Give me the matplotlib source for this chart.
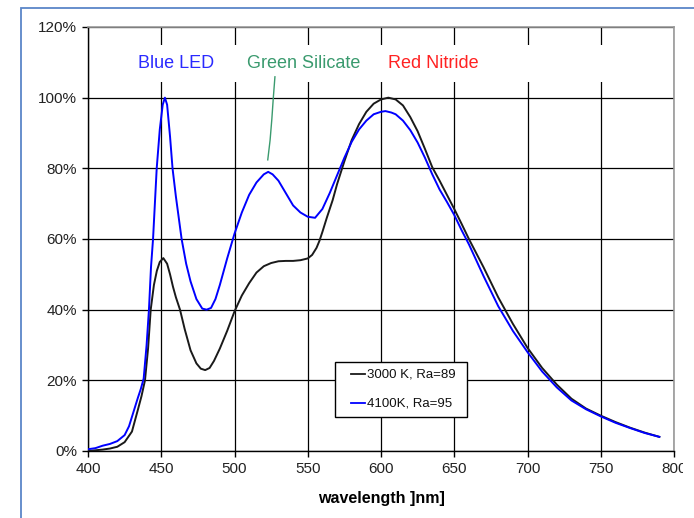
import matplotlib
matplotlib.use("Agg")
import matplotlib.pyplot as plt
from matplotlib.patches import Rectangle
from matplotlib.lines import Line2D

plt.rcParams['font.family'] = ['Liberation Sans', 'DejaVu Sans']

# ---- data ----
wl_3000 = [400, 405, 410, 415, 420, 425, 430, 434, 436.5, 438.9, 441, 442.8, 445, 447, 449, 451.4,
           454, 456, 458, 460, 462.8, 466, 470, 474, 477, 480, 483, 486, 490, 495, 500,
           505, 510, 515, 520, 525, 530, 535, 540, 545, 550, 553, 556, 558, 560, 563, 567,
           570, 575, 580, 585, 590, 595, 600, 605, 610, 615, 620, 625, 630, 635, 640, 645,
           650, 655, 660, 670, 680, 690, 700, 710, 720, 730, 740, 750, 760, 770, 780, 790]
val_3000 = [0.0, 0.2, 0.4, 0.7, 1.2, 2.5, 5.5, 11.6, 15.5, 20, 29, 40, 47, 51, 53.5, 54.6,
            53, 50, 46.5, 43.5, 40, 34.5, 28.5, 24.8, 23.3, 22.9, 23.5, 25.5, 29, 34, 39.5,
            44, 47.5, 50.5, 52.3, 53.2, 53.7, 53.8, 53.8, 54, 54.5, 55.5, 57.5, 59.5, 62, 66, 71,
            75.5, 82, 88, 92.5, 96, 98.3, 99.5, 100, 99.5, 97.8, 94.5, 90.5, 85.5, 80.3, 76.5, 72.5,
            68.5, 64.3, 60, 52, 43.5, 36, 29.2, 23.5, 18.8, 14.8, 12, 10, 8.2, 6.6, 5.2, 4.0]

wl_4100 = [400, 405, 410, 415, 420, 425, 428, 431, 434, 436, 438, 440, 441.6, 443, 444.4,
           446.9, 449, 451, 452.5, 454, 456, 457.7, 460, 463.9, 467, 470, 474, 478, 481, 484,
           487, 490, 495, 500, 505, 510, 515, 520, 523, 526, 530, 535, 540, 545, 550, 555,
           560, 565, 570, 575, 580, 585, 590, 595, 600, 603, 607, 610, 615, 620, 625, 630,
           635, 640, 645, 650, 655, 660, 670, 680, 690, 700, 710, 720, 730, 740, 750, 760,
           770, 780, 790]
val_4100 = [0.5, 0.8, 1.5, 2.0, 2.8, 4.5, 7, 11, 15, 17.5, 20.5, 30, 40, 52, 60,
            80, 91, 98, 100, 98, 89, 80, 72, 60, 53, 48, 43, 40.3, 40, 40.5,
            43, 47, 54.5, 61.5, 67.5, 72.5, 76, 78.3, 79, 78.3, 76.5, 73, 69.5, 67.5, 66.3, 66,
            68.5, 73, 78, 83, 87.5, 91, 93.5, 95.3, 96, 96.2, 95.8, 95.3, 93.5, 90.8, 87.3, 83,
            78.3, 74, 70.5, 66.8, 62.5, 58.5, 49.5, 41, 34, 28, 22.5, 18, 14.3, 11.8, 9.8, 8,
            6.5, 5.1, 4.0]

series_labels = ['3000 K, Ra=89', '4100K, Ra=95']
series_colors = ['#1a1a1a', '#0000ff']
x_ticks = [400, 450, 500, 550, 600, 650, 700, 750, 800]
y_ticks = [0, 20, 40, 60, 80, 100, 120]
annotations = ['Blue LED', 'Green Silicate', 'Red Nitride']
annotation_colors = ['#2a2aff', '#3a9a6e', '#ff2222']
annotation_x = [460.4, 547, 636]

# ---- figure ----
W, H = 694, 518
fig = plt.figure(figsize=(W / 100, H / 100), dpi=100)
ax = fig.add_axes([88 / W, 1 - 451 / H, (674 - 88) / W, (451 - 27) / H])

ax.set_xlim(400, 800)
ax.set_ylim(0, 120)

ax.plot(wl_3000, val_3000, color=series_colors[0], lw=1.4, zorder=4)
ax.plot(wl_4100, val_4100, color=series_colors[1], lw=1.4, zorder=5)

ax.set_xticks(x_ticks)
ax.set_yticks(y_ticks)
ax.set_yticklabels([f'{v}%' for v in y_ticks])
ax.tick_params(axis='both', labelsize=11, colors='black', length=4, width=1, pad=4,
               labelcolor='#222222')
ax.grid(True, color='black', lw=0.9, zorder=1)
ax.set_axisbelow(True)

for s in ['left', 'bottom']:
    ax.spines[s].set_color('black')
    ax.spines[s].set_linewidth(1.0)
for s in ['top', 'right']:
    ax.spines[s].set_color('#999999')
    ax.spines[s].set_linewidth(1.2)

# white band at top hiding grid
ax.axhspan(104.4, 114.9, xmin=0.003, xmax=0.997, color='white', zorder=2, lw=0)

ax.set_xlabel('wavelength ]nm]', fontsize=11.5, fontweight='bold', labelpad=11)

# annotations
for txt, col, xv in zip(annotations, annotation_colors, annotation_x):
    ax.text(xv, 109.6, txt, color=col, fontsize=13, ha='center', va='center', zorder=6)
ax.plot([527.6, 526.5, 525.5, 524.3, 522.7], [105.9, 100, 94, 88, 82.4],
        color='#3a9a6e', lw=1.0, zorder=6)

# legend (drawn in axes fraction)
ax.add_patch(Rectangle((0.4215, 0.0802), 0.2253, 0.1297, transform=ax.transAxes,
                       facecolor='white', edgecolor='black', lw=1.0, zorder=7))
for i, (lab, col) in enumerate(zip(series_labels, series_colors)):
    yy = [0.1816, 0.1132][i]
    ax.add_line(Line2D([0.4488, 0.4727], [yy, yy], transform=ax.transAxes,
                       color=col, lw=1.3, zorder=8))
    ax.text(0.4761, yy, lab, transform=ax.transAxes, fontsize=9.5, va='center', ha='left',
            color='#111111', zorder=8)

# outer frame
fig.patches.append(Rectangle((21 / W, -0.1), 2, 1.1 - 8 / H, transform=fig.transFigure,
                             fill=False, edgecolor='#5a86c8', lw=1.3))
# clip at right edge like reference
fig.patches.append(Rectangle((683 / W, 0), 0.2, (518 - 457) / H, transform=fig.transFigure,
                             facecolor='white', edgecolor='none', zorder=10))

fig.savefig('out.png', dpi=100)
